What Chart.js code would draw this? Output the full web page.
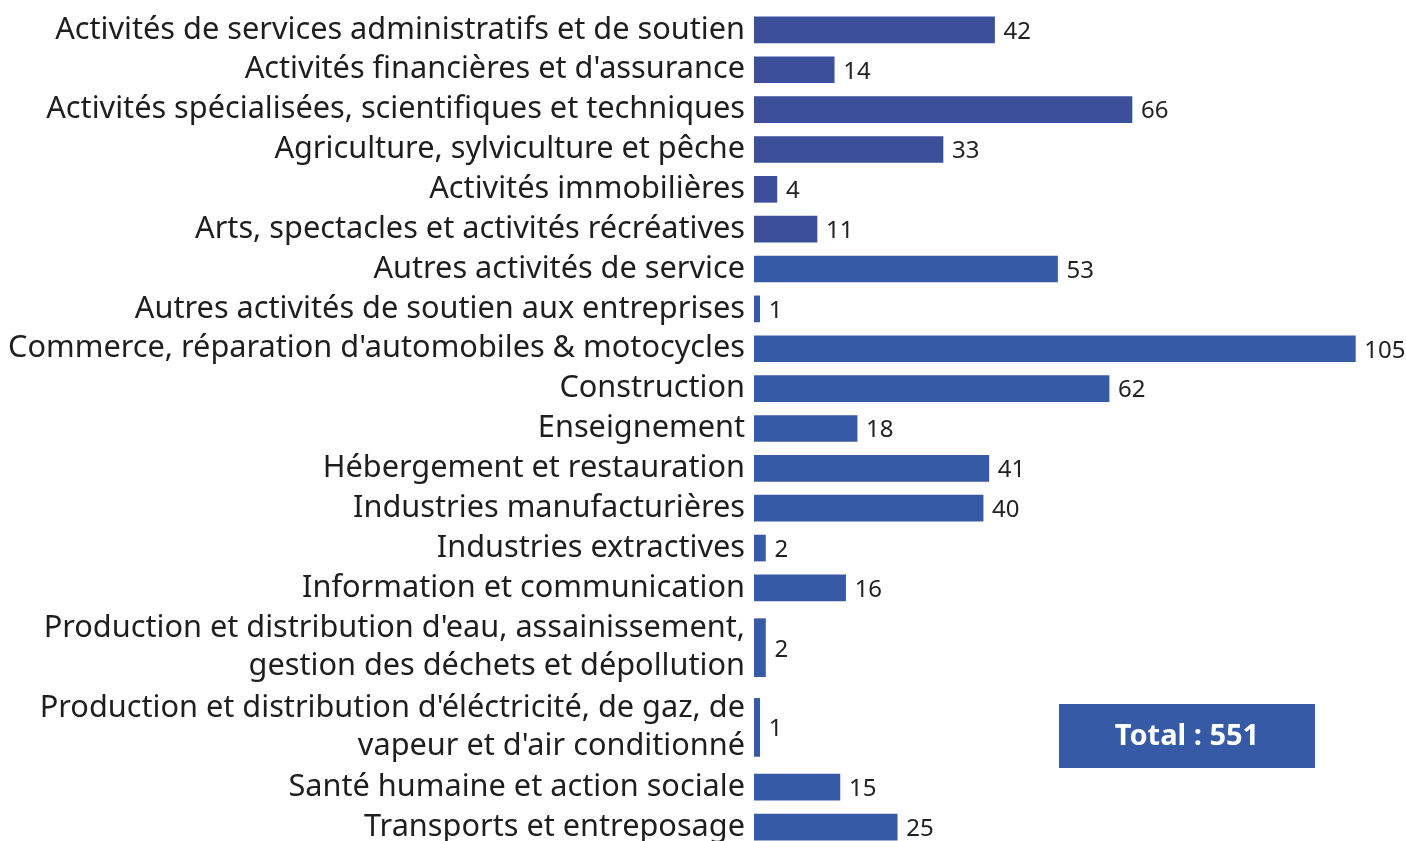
<!DOCTYPE html>
<html>
<head>
<meta charset="utf-8">
<script src="https://cdn.jsdelivr.net/npm/chart.js@4.4.1/dist/chart.umd.min.js"></script>
<style>
  html, body { margin: 0; padding: 0; background: #ffffff; }
  #wrap { width: 1406px; height: 841px; position: relative; }
</style>
</head>
<body>
<div id="wrap"><canvas id="chart_secteurs"></canvas></div>
<script>
// categories (multi-line labels are arrays)
var categories = [
    'Activités de services administratifs et de soutien',
    'Activités financières et d\'assurance',
    'Activités spécialisées, scientifiques et techniques',
    'Agriculture, sylviculture et pêche',
    'Activités immobilières',
    'Arts, spectacles et activités récréatives',
    'Autres activités de service',
    'Autres activités de soutien aux entreprises',
    'Commerce, réparation d\'automobiles & motocycles',
    'Construction',
    'Enseignement',
    'Hébergement et restauration',
    'Industries manufacturières',
    'Industries extractives',
    'Information et communication',
    ['Production et distribution d\'eau, assainissement,', 'gestion des déchets et dépollution'],
    ['Production et distribution d\'éléctricité, de gaz, de', 'vapeur et d\'air conditionné'],
    'Santé humaine et action sociale',
    'Transports et entreposage'
];
var values = [42, 14, 66, 33, 4, 11, 53, 1, 105, 62, 18, 41, 40, 2, 16, 2, 1, 15, 25];
var barColors = [
    '#3c4f9a', '#3c4f9a', '#3c4f9a', '#3c4f9a', '#3c4f9a', '#3c4f9a',
    '#375aa7', '#375aa7', '#375aa7', '#375aa7', '#375aa7', '#375aa7', '#375aa7',
    '#375aa7', '#375aa7', '#375aa7', '#375aa7', '#375aa7', '#375aa7'
];
var totalLabel = 'Total : ';

// each label line takes one row slot; bar sits in the middle of its slots
var rowPos = [];
var slot = 0;
categories.forEach(function(c) {
    var lines = Array.isArray(c) ? c.length : 1;
    rowPos.push(slot + lines / 2);
    slot += lines;
});

var singleData = [], singleColors = [], doubleData = [], doubleColors = [];
categories.forEach(function(c, i) {
    if (Array.isArray(c)) {
        doubleData.push({ x: values[i], y: rowPos[i] });
        doubleColors.push(barColors[i]);
    } else {
        singleData.push({ x: values[i], y: rowPos[i] });
        singleColors.push(barColors[i]);
    }
});
var total = values.reduce(function(a, b) { return a + b; }, 0);

var chart_secteurs = new Chart(document.getElementById('chart_secteurs'), {
    type: 'bar',
    data: {
        datasets: [
            {
                label: 'single',
                data: singleData,
                backgroundColor: singleColors,
                barThickness: 26
            },
            {
                label: 'double',
                data: doubleData,
                backgroundColor: doubleColors,
                barThickness: 58
            }
        ]
    },
    options: {
        animation: false,
        responsive: true,
        maintainAspectRatio: false,
        indexAxis: 'y',
        grouped: false,
        layout: { padding: { top: 0, right: 22, bottom: 0, left: 0 } },
        plugins: {
            legend: { display: false },
            tooltip: { enabled: false }
        },
        scales: {
            x: {
                type: 'linear',
                min: 0,
                max: 110,
                display: false
            },
            y: {
                type: 'linear',
                reverse: true,
                offset: false,
                min: -0.25,
                max: 20.85,
                grid: { display: false, drawTicks: false, offset: false },
                border: { display: false },
                afterBuildTicks: function(scale) {
                    scale.ticks = rowPos.map(function(v) { return { value: v }; });
                },
                afterFit: function(scale) {
                    scale.width = 754;
                    scale.paddingTop = 0;
                    scale.paddingBottom = 0;
                },
                ticks: {
                    autoSkip: false,
                    padding: 9,
                    color: '#1e1e1e',
                    font: { family: 'Noto Sans', size: 30.7, lineHeight: 1.24 },
                    callback: function(value, index) {
                        return categories[index];
                    }
                }
            }
        }
    },
    plugins: [{
        id: 'valueLabels',
        afterDatasetsDraw: function(chart) {
            var ctx = chart.ctx;
            ctx.save();
            ctx.fillStyle = '#222222';
            ctx.font = '24px "Noto Sans"';
            ctx.textAlign = 'left';
            ctx.textBaseline = 'middle';
            chart.data.datasets.forEach(function(ds, di) {
                chart.getDatasetMeta(di).data.forEach(function(bar, i) {
                    ctx.fillText(String(ds.data[i].x), bar.x + 9, bar.y + 2);
                });
            });
            ctx.restore();
        }
    }, {
        id: 'totalBox',
        afterDraw: function(chart) {
            var ctx = chart.ctx;
            ctx.save();
            ctx.fillStyle = '#375aa7';
            ctx.fillRect(1059, 704, 256, 64);
            ctx.fillStyle = '#ffffff';
            ctx.font = 'bold 29px "Noto Sans"';
            ctx.textAlign = 'center';
            ctx.textBaseline = 'middle';
            ctx.fillText(totalLabel + total, 1187, 737);
            ctx.restore();
        }
    }, {
        id: 'customPlugin',
        beforeDraw: function(chart) {
            var ctx = chart.canvas.getContext('2d');
            ctx.save();
            ctx.globalCompositeOperation = 'destination-over';
            ctx.fillStyle = 'white';
            ctx.fillRect(0, 0, chart.canvas.width, chart.canvas.height);
            ctx.restore();
        }
    }]
});
</script>
</body>
</html>
